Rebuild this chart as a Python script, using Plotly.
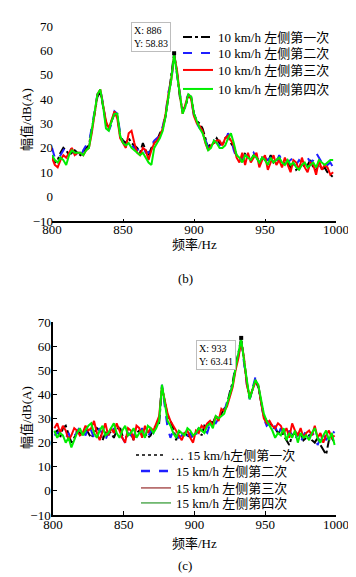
import plotly.graph_objects as go

# ---------------- data ----------------
freq_b = list(range(800, 1000, 2))   # Hz, panel (b)
freq_c = list(range(801, 1000, 2))   # Hz, panel (c)

b_run1 = [17, 14, 15, 18, 20, 19, 17, 18, 19, 18,
          17, 18, 20, 21, 27, 34, 41, 43, 37, 30,
          28, 31, 34, 33, 25, 23, 22, 24, 22, 21,
          20, 18, 22, 19, 17, 20, 22, 23, 26, 28,
          33, 41, 49, 58.83, 51, 41, 35, 37, 41, 41,
          34, 31, 30, 28, 24, 20, 22, 22, 24, 22,
          21, 24, 25, 22, 20, 17, 16, 14, 18, 16,
          15, 17, 17, 13, 16, 15, 14, 17, 14, 15,
          16, 13, 14, 14, 12, 14, 11, 12, 14, 12,
          13, 15, 12, 11, 14, 11, 12, 10, 9, 8]
b_run2 = [20, 16, 15, 17, 19, 21, 20, 19, 18, 17,
          16, 19, 21, 22, 28, 35, 42, 44, 38, 29,
          27, 30, 35, 34, 26, 22, 21, 23, 21, 20,
          19, 20, 21, 18, 18, 21, 23, 24, 25, 29,
          34, 43, 47, 58, 50, 43, 35, 39, 42, 40,
          33, 30, 28, 27, 23, 20, 21, 23, 22, 21,
          22, 23, 26, 24, 19, 16, 15, 16, 17, 17,
          16, 18, 16, 15, 17, 16, 15, 16, 15, 14,
          17, 15, 16, 14, 15, 16, 13, 15, 14, 15,
          16, 14, 15, 18, 16, 14, 15, 13, 14, 12]
b_run3 = [16, 13, 12, 15, 17, 16, 18, 20, 17, 18,
          18, 17, 19, 20, 26, 35, 42, 44, 38, 31,
          28, 32, 35, 32, 24, 22, 20, 26, 27, 22,
          18, 17, 20, 19, 15, 19, 22, 23, 25, 28,
          34, 42, 48, 58, 52, 42, 34, 38, 42, 40,
          33, 30, 29, 27, 22, 19, 21, 22, 23, 23,
          21, 24, 25, 23, 21, 16, 14, 18, 13, 18,
          14, 16, 18, 12, 15, 17, 11, 14, 17, 13,
          15, 12, 16, 13, 10, 15, 14, 11, 16, 12,
          10, 14, 13, 9, 15, 11, 13, 12, 9, 10]
b_run4 = [17, 15, 14, 16, 15, 13, 17, 19, 18, 18,
          18, 17, 19, 20, 27, 34, 42, 44, 37, 28,
          27, 31, 34, 34, 25, 22, 21, 22, 20, 19,
          18, 17, 18, 16, 14, 13, 20, 22, 24, 27,
          33, 41, 48, 58.5, 50, 42, 34, 37, 42, 41,
          34, 31, 28, 26, 22, 19, 20, 23, 22, 20,
          20, 21, 24, 26, 22, 17, 16, 14, 17, 16,
          15, 17, 16, 14, 16, 15, 13, 16, 14, 15,
          16, 14, 13, 15, 13, 14, 12, 11, 13, 14,
          12, 13, 14, 12, 15, 14, 13, 14, 15, 15]

c_run1 = [24, 25, 22, 26, 27, 23, 20, 22, 25, 24,
          23, 26, 24, 22, 24, 26, 25, 21, 24, 25,
          24, 22, 25, 27, 23, 22, 23, 24, 21, 24,
          25, 23, 24, 22, 23, 26, 27, 28, 43, 37,
          31, 29, 26, 21, 25, 23, 24, 23, 22, 23,
          24, 26, 23, 27, 26, 29, 28, 31, 30, 32,
          34, 36, 41, 45, 52, 57, 63.41, 54, 45, 38,
          42, 46, 43, 37, 31, 29, 28, 27, 26, 24,
          25, 23, 21, 19, 23, 24, 22, 24, 21, 22,
          23, 21, 20, 22, 19, 17, 15, 21, 22, 20]
c_run2 = [23, 24, 25, 23, 22, 24, 21, 23, 24, 27,
          25, 23, 27, 25, 22, 24, 26, 23, 21, 24,
          22, 26, 23, 24, 22, 20, 24, 23, 23, 25,
          24, 26, 23, 22, 25, 24, 27, 30, 44, 35,
          26, 22, 25, 24, 22, 23, 25, 23, 24, 21,
          23, 26, 24, 25, 24, 28, 29, 28, 30, 33,
          33, 37, 40, 44, 51, 56, 62, 53, 44, 38,
          43, 47, 44, 37, 30, 27, 28, 25, 27, 23,
          26, 24, 22, 25, 23, 21, 24, 20, 23, 25,
          22, 24, 23, 19, 22, 24, 21, 23, 25, 24]
c_run3 = [26, 28, 24, 27, 25, 21, 23, 26, 25, 23,
          24, 27, 25, 26, 29, 24, 21, 25, 28, 23,
          26, 24, 28, 25, 22, 20, 26, 25, 21, 27,
          26, 22, 27, 24, 26, 25, 28, 31, 43, 38,
          32, 29, 27, 25, 23, 21, 24, 25, 22, 20,
          25, 24, 27, 26, 28, 29, 27, 31, 29, 34,
          33, 35, 39, 43, 50, 55, 62, 55, 44, 39,
          42, 45, 44, 36, 30, 28, 29, 27, 26, 28,
          27, 24, 26, 22, 28, 25, 23, 26, 22, 24,
          25, 23, 27, 22, 24, 20, 23, 25, 22, 23]
c_run4 = [25, 22, 24, 23, 20, 22, 18, 21, 24, 26,
          23, 25, 27, 28, 24, 22, 25, 27, 23, 24,
          26, 28, 24, 22, 25, 27, 23, 24, 26, 22,
          24, 25, 22, 27, 26, 24, 26, 29, 44, 36,
          29, 27, 24, 22, 25, 24, 23, 26, 25, 23,
          24, 26, 25, 24, 27, 28, 26, 31, 30, 31,
          32, 36, 40, 44, 51, 57, 63, 54, 45, 38,
          42, 46, 44, 38, 32, 29, 27, 25, 22, 24,
          23, 26, 21, 24, 22, 25, 20, 24, 22, 23,
          21, 24, 26, 22, 20, 23, 25, 21, 24, 19]

labels_b = ["10 km/h 左侧第一次", "10 km/h 左侧第二次", "10 km/h 左侧第三次", "10 km/h 左侧第四次"]
labels_c = ["… 15 km/h左侧第一次", "15 km/h 左侧第二次", "15 km/h 左侧第三次", "15 km/h 左侧第四次"]
x_ticks = [800, 850, 900, 950, 1000]
y_ticks = [-10, 0, 10, 20, 30, 40, 50, 60, 70]
peak_b = 886
peak_c = 933

# ---------------- styling ----------------
W, H = 356, 577
SERIF = "Liberation Serif, Noto Sans CJK SC"
colors = ["#000000", "#1f1fff", "#ff0000", "#00ee00"]
dashes = ["dashdot", "dash", "solid", "solid"]

def px(x):
    return x / W

def py(y):
    return 1 - y / H

fig = go.Figure()

# legend placement (pixel text-left, row centre) per entry
leg_b_pos = [(210, 29), (210, 45), (210, 62), (210, 81)]
leg_c_pos = [(163, 447), (168, 463), (168, 480), (168, 495)]

legend_layout = {}
series_b = [b_run1, b_run2, b_run3, b_run4]
for k, (vals, lab, col, dsh) in enumerate(zip(series_b, labels_b, colors, dashes)):
    lname = "legend" if k == 0 else "legend%d" % (k + 1)
    fig.add_trace(go.Scatter(x=freq_b, y=vals, mode="lines", name=lab,
                             line=dict(color=col, width=2, dash=dsh),
                             xaxis="x", yaxis="y", legend=lname))
    tx, ty = leg_b_pos[k]
    legend_layout[lname] = dict(x=px(tx - 40), y=py(ty), xanchor="left", yanchor="middle")

series_c = [c_run1, c_run2, c_run3, c_run4]
for vals, col, dsh in zip(series_c, colors, dashes):
    fig.add_trace(go.Scatter(x=freq_c, y=vals, mode="lines", showlegend=False,
                             line=dict(color=col, width=2, dash=dsh),
                             xaxis="x2", yaxis="y2"))

# legend entries of panel (c), styled as in the original
leg_c_colors = ["#000000", "#1f1fff", "#800000", "#008000"]
leg_c_dash = ["dot", "dash", "solid", "solid"]
leg_c_width = [1.5, 2.5, 1, 1]
for k, (lab, col, dsh, wd) in enumerate(zip(labels_c, leg_c_colors, leg_c_dash, leg_c_width)):
    lname = "legend%d" % (k + 5)
    fig.add_trace(go.Scatter(x=[None], y=[None], mode="lines", name=lab,
                             line=dict(color=col, width=wd, dash=dsh),
                             xaxis="x2", yaxis="y2", legend=lname))
    tx, ty = leg_c_pos[k]
    legend_layout[lname] = dict(x=px(tx - 40), y=py(ty), xanchor="left", yanchor="middle")

for lname in legend_layout:
    legend_layout[lname].update(bgcolor="rgba(0,0,0,0)", borderwidth=0,
                                font=dict(family=SERIF, size=13, color="black"),
                                itemwidth=30)

# data-tip markers
ib = freq_b.index(peak_b)
ic = freq_c.index(peak_c)
fig.add_trace(go.Scatter(x=[freq_b[ib]], y=[b_run1[ib]], mode="markers", showlegend=False,
                         marker=dict(color="black", size=4, symbol="square"),
                         xaxis="x", yaxis="y"))
fig.add_trace(go.Scatter(x=[freq_c[ic]], y=[c_run1[ic]], mode="markers", showlegend=False,
                         marker=dict(color="black", size=4, symbol="square"),
                         xaxis="x2", yaxis="y2"))

tick_font = dict(family=SERIF, size=13, color="black")
axis_common = dict(showgrid=False, zeroline=False, tickfont=tick_font, automargin=False)

fig.update_layout(
    template="none",
    width=W, height=H,
    margin=dict(l=0, r=0, t=0, b=0, pad=0, autoexpand=False),
    paper_bgcolor="white", plot_bgcolor="white",
    font=dict(family=SERIF, color="black"),
    xaxis=dict(domain=[px(44), px(328)], range=[800, 1000], tickvals=x_ticks,
               showline=True, linecolor="black", linewidth=1.5,
               ticks="inside", ticklen=2, tickcolor="black", anchor="y",
               ticklabelstandoff=-4, **axis_common),
    yaxis=dict(domain=[py(213), py(18)], range=[-10, 70], tickvals=y_ticks,
               showline=False, ticks="", anchor="x", ticklabelstandoff=-2, **axis_common),
    xaxis2=dict(domain=[px(45), px(328)], range=[800, 1000], tickvals=x_ticks,
                showline=True, linecolor="black", linewidth=1.5,
                ticks="inside", ticklen=4, tickcolor="black", anchor="y2",
                ticklabelstandoff=-3, **axis_common),
    yaxis2=dict(domain=[py(507), py(314)], range=[-10, 70], tickvals=y_ticks,
                showline=True, linecolor="black", linewidth=1.5,
                ticks="inside", ticklen=4, tickcolor="black", anchor="x2",
                ticklabelstandoff=-2, **axis_common),
    showlegend=True,
    **legend_layout,
)

ann_font = dict(family=SERIF, size=13, color="black")
annotations = [
    dict(text="幅值/dB(A)", x=px(18), y=py(112), textangle=-90, font=ann_font),
    dict(text="幅值/dB(A)", x=px(18), y=py(410), textangle=-90, font=ann_font),
    dict(text="频率/Hz", x=px(186), y=py(236), font=ann_font),
    dict(text="频率/Hz", x=px(186), y=py(535), font=ann_font),
    dict(text="(b)", x=px(177), y=py(270), font=ann_font),
    dict(text="(c)", x=px(177), y=py(557), font=ann_font),
]
for a in annotations:
    a.update(xanchor="center", yanchor="middle")
annotations += [
    dict(text="X: %d<br>Y: %.2f" % (freq_b[ib], b_run1[ib]), x=px(123), y=py(14),
         xanchor="left", yanchor="top", align="left", bgcolor="white",
         bordercolor="#bdbdbd", borderwidth=1, borderpad=2,
         font=dict(family=SERIF, size=10, color="black")),
    dict(text="X: %d<br>Y: %.2f" % (freq_c[ic], c_run1[ic]), x=px(188), y=py(332),
         xanchor="left", yanchor="top", align="left", bgcolor="white",
         bordercolor="#bdbdbd", borderwidth=1, borderpad=2,
         font=dict(family=SERIF, size=10, color="black")),
]
for a in annotations:
    a.setdefault("xref", "paper")
    a.setdefault("yref", "paper")
    a.setdefault("showarrow", False)
fig.update_layout(annotations=annotations)

fig.write_html("out.html")
